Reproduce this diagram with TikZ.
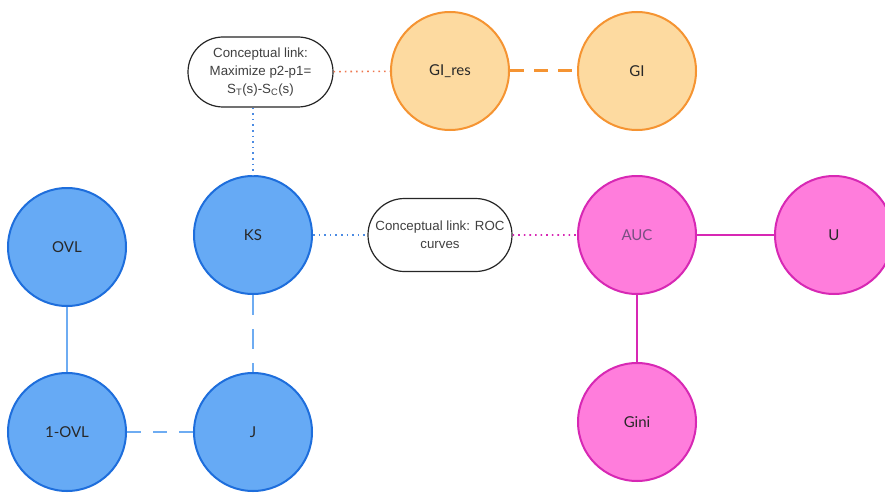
\documentclass[tikz,border=0pt]{standalone}
\usepackage{fontspec}
\setmainfont{Liberation Sans}
\newfontfamily\latofont{Lato}
\usetikzlibrary{shapes.misc}
\definecolor{bluefill}{RGB}{102,170,245}
\definecolor{blueline}{RGB}{30,110,220}
\definecolor{blueedge}{RGB}{110,172,242}
\definecolor{orfill}{RGB}{253,218,160}
\definecolor{orline}{RGB}{245,148,50}
\definecolor{ordot}{RGB}{238,120,80}
\definecolor{magfill}{RGB}{255,125,220}
\definecolor{magline}{RGB}{215,40,180}
\definecolor{txt}{RGB}{40,40,40}
\definecolor{auctxt}{RGB}{120,80,130}
\begin{document}
\begin{tikzpicture}[x=1pt,y=-1pt,
  circ/.style={circle,minimum size=118pt,inner sep=0pt,line width=2pt,
    font=\latofont\fontsize{15}{17}\selectfont,text=txt},
  bluec/.style={circ,draw=blueline,fill=bluefill},
  orc/.style={circ,draw=orline,fill=orfill},
  magc/.style={circ,draw=magline,fill=magfill},
  linkbox/.style={rounded rectangle,draw=black!85,line width=1.2pt,fill=white,
    inner sep=0pt,align=center,text=black!75,
    font=\fontsize{13.3}{18}\selectfont},
  dotline/.style={line width=1.6pt,dash pattern=on 1.6pt off 4pt},
]
\useasboundingbox (0,0) rectangle (885,492);
\clip (0,0) rectangle (885,492);
% nodes
\node[bluec] (ovl) at (67,247) {OVL};
\node[bluec] (ks) at (253,235) {KS};
\node[bluec] (oneovl) at (67,432) {1-OVL};
\node[bluec] (j) at (253,432) {J};
\node[orc] (gires) at (450,71) {GI\_res};
\node[orc] (gi) at (637,71) {GI};
\node[magc,text=auctxt] (auc) at (637,235) {AUC};
\node[magc] (u) at (834,235) {U};
\node[magc] (gini) at (637,422) {Gini};
\node[linkbox,minimum width=145pt,minimum height=70pt] (box1) at (260.5,72)
  {Conceptual link:\\Maximize p2-p1=\\S\textsubscript{T}(s)-S\textsubscript{C}(s)};
\node[linkbox,minimum width=144pt,minimum height=73pt] (box2) at (440,235)
  {Conceptual link: ROC\\curves};
% connectors
\draw[blueedge,line width=2pt] (ovl) -- (oneovl);
\draw[blueedge,line width=2.5pt,dash pattern=on 14pt off 12pt] (oneovl) -- (j);
\draw[blueedge,line width=2.5pt,dash pattern=on 20pt off 14pt] (ks) -- (j);
\draw[ordot,dotline] (box1) -- (gires);
\draw[blueline!80,dotline] (box1.south -| ks) -- (ks.north);
\draw[orline,line width=3pt,dash pattern=on 14pt off 10pt] (gires) -- (gi);
\draw[blueline!80,dotline] (ks) -- (box2);
\draw[magline,dotline] (box2) -- (auc);
\draw[magline,line width=1.5pt] (auc) -- (u);
\draw[magline,line width=2.5pt] (auc) -- (gini);
\end{tikzpicture}
\end{document}
